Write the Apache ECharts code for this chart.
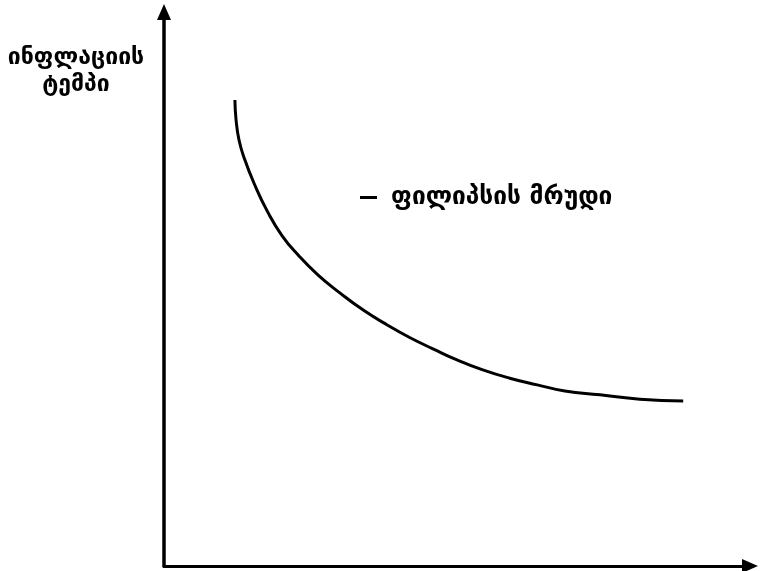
<!DOCTYPE html>
<html>
<head>
<meta charset="utf-8">
<script src="https://cdn.jsdelivr.net/npm/echarts@6/dist/echarts.min.js"></script>
<style>html,body{margin:0;padding:0;background:#fff}#c{width:762px;height:571px}</style>
</head>
<body>
<div id="c"></div>
<script>
const yAxisTitle = 'ინფლაციის\nტემპი';
const seriesName = 'ფილიპსის მრუდი';
const unemployment = [12.1, 12.3, 12.8, 13.7, 15.4, 17.6, 20.1, 23.0, 26.3, 30.0, 34.0, 38.1, 42.0, 45.9, 50.0, 54.4, 59.0, 63.7, 68.4, 74.4, 81.2, 88.6];
const inflation = [84.1, 80.5, 76.9, 73.6, 69.0, 64.1, 59.7, 56.0, 52.5, 49.3, 46.2, 43.5, 41.2, 39.2, 37.2, 35.4, 33.9, 32.7, 31.6, 30.9, 30.1, 29.8];

const chart = echarts.init(document.getElementById('c'), null, {renderer: 'canvas'});
const font = 'DejaVu Sans';
chart.setOption({
  animation: false,
  backgroundColor: '#fff',
  title: {
    text: yAxisTitle,
    left: 76, top: 45, textAlign: 'center', padding: 0,
    textStyle: {fontFamily: font, fontWeight: 'bold', fontSize: 23, color: '#000', lineHeight: 27}
  },
  legend: {
    data: [{name: seriesName, icon: 'rect'}],
    left: 360, top: 185, padding: 0,
    itemWidth: 17, itemHeight: 3, itemGap: 14,
    textStyle: {fontFamily: font, fontWeight: 'bold', fontSize: 24.5, color: '#000', padding: [0, 0, 0, 9]}
  },
  grid: {left: 164, right: 12, top: 12, bottom: 5, containLabel: false},
  xAxis: {
    type: 'value', min: 0, max: 100,
    axisLine: {show: true, symbol: ['none', 'triangle'], symbolSize: [14, 16], lineStyle: {color: '#000', width: 3}},
    axisTick: {show: false}, axisLabel: {show: false}, splitLine: {show: false}
  },
  yAxis: {
    type: 'value', min: 0, max: 100,
    axisLine: {show: true, symbol: ['none', 'triangle'], symbolSize: [14, 16], lineStyle: {color: '#000', width: 3.5}},
    axisTick: {show: false}, axisLabel: {show: false}, splitLine: {show: false}
  },
  series: [{
    name: seriesName,
    type: 'line',
    smooth: 0.5,
    showSymbol: false,
    data: unemployment.map((x, i) => [x, inflation[i]]),
    lineStyle: {color: '#000', width: 3},
    itemStyle: {color: '#000'}
  }]
});
</script>
</body>
</html>
